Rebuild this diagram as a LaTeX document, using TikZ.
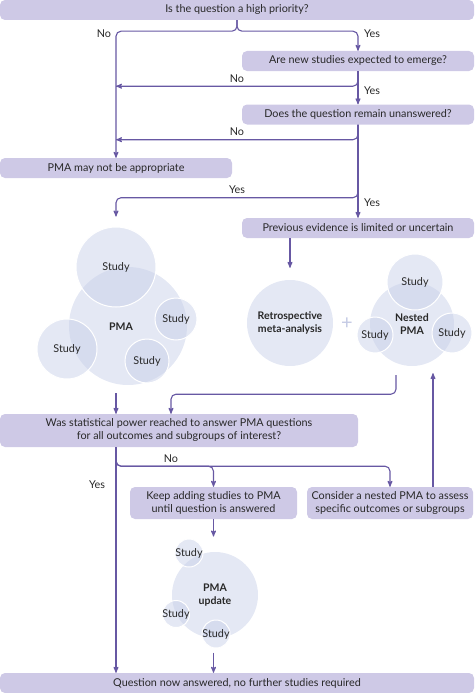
\documentclass[tikz,border=0pt]{standalone}
\usepackage{fontspec}
\setmainfont{Lato}
\usetikzlibrary{calc}
\usetikzlibrary{arrows}
\usepackage{xcolor}
\definecolor{boxcol}{RGB}{206,201,230}
\definecolor{flowcol}{RGB}{103,88,163}
\definecolor{circcol}{RGB}{201,209,233}
\definecolor{txtcol}{RGB}{40,40,40}
\definecolor{pluscol}{RGB}{196,202,228}

\begin{document}
\begin{tikzpicture}[x=1pt,y=-1pt,font=\fontsize{10.8}{13}\selectfont,text=txtcol,
  qbox/.style={fill=boxcol,rounded corners=5pt,minimum height=20pt,inner sep=2pt,align=center},
  flow/.style={draw=flowcol,line width=1.1pt,->,>=stealth',rounded corners=5pt},
  lbl/.style={inner sep=1pt},
  bigc/.style={circle,fill=circcol,fill opacity=.5,text opacity=1,inner sep=0pt,align=center,font=\fontsize{10.5}{12.5}\selectfont\bfseries},
  studyc/.style={circle,fill=circcol,fill opacity=.5,draw=white,line width=1pt,inner sep=0pt,label={center:Study}}]
\useasboundingbox (0,0) rectangle (474,693);
% questions
\node[qbox,minimum width=474pt] (q1) at (237,10) {Is the question a high priority?};
\node[qbox,minimum width=232pt] (q2) at (358,61) {Are new studies expected to emerge?};
\node[qbox,minimum width=232pt] (q3) at (358,114.5) {Does the question remain unanswered?};
\node[qbox,minimum width=232pt] (nopma) at (116,168) {PMA may not be appropriate};
\node[qbox,minimum width=232pt] (prev) at (358,228) {Previous evidence is limited or uncertain};
\coordinate (n1) at ($(q2.south -| nopma.north)+(0,15)$);
\coordinate (n2) at ($(q3.south -| nopma.north)+(0,15)$);
\draw[flow] (q1.south) -- ++(0,11) -| (nopma.north);
\draw[flow] (q1.south) -- ++(0,11) -| (q2.north);
\draw[flow] (q2.south) |- (n1);
\draw[flow] (q2.south) -- (q3.north);
\draw[flow] (q3.south) |- (n2);
\node[lbl] (no1) at (104,34) {No};
\node[lbl] (yes1) at (372,34) {Yes};
\node[lbl] (no2) at (237,79) {No};
\node[lbl] (yes2) at (372,91) {Yes};
\node[lbl] (no3) at (237,132) {No};
\node[lbl] (yes3) at (237,190) {Yes};
\node[lbl] (yes4) at (372,203) {Yes};
% circles
\node[bigc,minimum size=118pt] (pmac) at (128,326) {};
\node[studyc,minimum size=80pt] (pst1) at (116,267) {};
\node[studyc,minimum size=42pt] (pst2) at (176,319) {};
\node[studyc,minimum size=60pt] (pst3) at (67,349) {};
\node[studyc,minimum size=44pt] (pst4) at (147,361) {};
\node[font=\fontsize{10.5}{12.5}\selectfont\bfseries] (pmalbl) at (121,327) {PMA};
\node[bigc,minimum size=86pt] (retro) at (290,323) {Retrospective\\meta-analysis};
\node[text=pluscol,font=\fontsize{20}{20}\selectfont] (plus) at (347,324) {+};
\node[bigc,minimum size=84pt] (nested) at (412,324) {Nested\\PMA};
\node[studyc,minimum size=56pt] (nst1) at (415,282) {};
\node[studyc,minimum size=36pt] (nst2) at (375,335) {};
\node[studyc,minimum size=40pt] (nst3) at (452,333) {};
\draw[flow] (q3.south) -- ++(0,73) -| ($(pst1.north)+(0,-10)$);
\draw[flow] (q3.south) -- (prev.north);
\draw[flow] (prev.south -| retro.north) -- ($(retro.north)+(0,-12)$);
% power
\node[qbox,minimum width=358pt,minimum height=33pt] (power) at (179,430.5) {Was statistical power reached to answer PMA questions\\for all outcomes and subgroups of interest?};
\node[qbox,minimum width=167pt,minimum height=32pt] (keep) at (213.5,503) {Keep adding studies to PMA\\until question is answered};
\node[qbox,minimum width=166pt,minimum height=32pt] (consider) at (390,503) {Consider a nested PMA to assess\\specific outcomes or subgroups};
\node[qbox,minimum width=474pt] (done) at (237,683) {Question now answered, no further studies required};
\draw[flow] ($(pmac.south -| nopma.north)+(0,8)$) -- (power.north -| nopma.north);
\draw[flow] ($(nested.south)+(-16,9)$) -- ++(0,19) -| ($(power.north)+(-8,0)$);
\draw[flow] (power.south -| nopma.north) -- (done.north -| nopma.north);
\draw[flow] (power.south -| nopma.north) -- ++(0,19) -| (keep.north);
\draw[flow] (power.south -| nopma.north) -- ++(0,19) -| (consider.north);
\draw[flow] ($(consider.north)+(43,0)$) -- ($(nested.south)+(21,7)$);
\node[lbl] (no4) at (171,459) {No};
\node[lbl] (yes5) at (97,485) {Yes};
% update
\node[bigc,minimum size=86pt] (upd) at (215,595) {PMA\\update};
\node[studyc,minimum size=28pt] (ust1) at (189,553) {};
\node[studyc,minimum size=27pt] (ust2) at (176,614) {};
\node[studyc,minimum size=28pt] (ust3) at (216,634) {};
\draw[flow] (keep.south) -- ($(keep.south |- ust1.north)+(0,-2)$);
\draw[flow] ($(keep.south |- ust3.south)+(0,4)$) -- (done.north -| keep.south);
\end{tikzpicture}
\end{document}
